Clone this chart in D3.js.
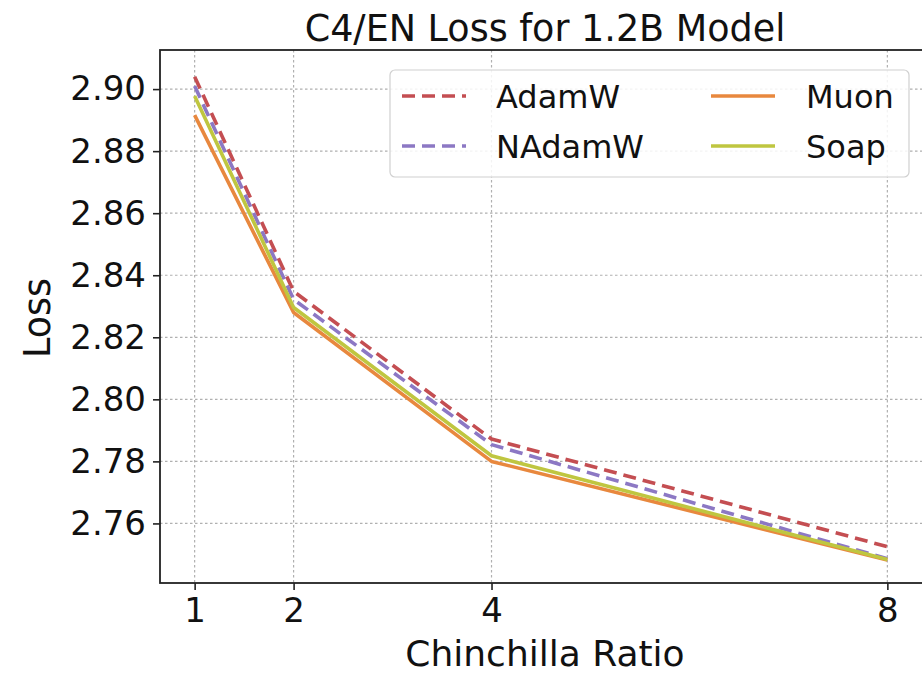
<!DOCTYPE html>
<html>
<head>
<meta charset="utf-8">
<script src="https://cdn.jsdelivr.net/npm/d3@7"></script>
<style>
  html, body { margin: 0; padding: 0; background: #fff; }
  svg { display: block; font-family: "DejaVu Sans", sans-serif; }
</style>
</head>
<body>
<svg id="chart" width="922" height="674"></svg>
<script>
const chinchilla = [1, 2, 4, 8];
const adamw  = [2.9040, 2.8348, 2.7872, 2.7525];
const nadamw = [2.9010, 2.8322, 2.7854, 2.7486];
const muon   = [2.8916, 2.8280, 2.7800, 2.7482];
const soap   = [2.8978, 2.8296, 2.7818, 2.7484];
const seriesNames = ["AdamW", "NAdamW", "Muon", "Soap"];
const xTicks = [1, 2, 4, 8];
const yTicks = [2.76, 2.78, 2.80, 2.82, 2.84, 2.86, 2.88, 2.90];

const series = [
  { name: seriesNames[0], values: adamw,  color: "#c44e52", dash: "13,7" },
  { name: seriesNames[1], values: nadamw, color: "#8c78c4", dash: "13,7" },
  { name: seriesNames[2], values: muon,   color: "#e8883e", dash: null },
  { name: seriesNames[3], values: soap,   color: "#bfc640", dash: null }
];

const svg = d3.select("#chart");
const L = 160, R = 922, T = 50, B = 583;

const x = d3.scaleLinear().domain([0.65, 8.35]).range([L, R]);
const y = d3.scaleLinear().domain([2.7408, 2.9126]).range([B, T]);

// grid
const grid = svg.append("g");
grid.selectAll(".gx").data(xTicks).enter().append("line")
  .attr("x1", d => x(d)).attr("x2", d => x(d)).attr("y1", T).attr("y2", B)
  .attr("stroke", "#b0b0b0").attr("stroke-width", 1.2).attr("stroke-dasharray", "2.5,2.5");
grid.selectAll(".gy").data(yTicks).enter().append("line")
  .attr("x1", L).attr("x2", R).attr("y1", d => y(d)).attr("y2", d => y(d))
  .attr("stroke", "#b0b0b0").attr("stroke-width", 1.2).attr("stroke-dasharray", "2.5,2.5");

// lines
const line = d3.line().x((d, i) => x(chinchilla[i])).y(d => y(d));
svg.append("g").selectAll("path").data(series).enter().append("path")
  .attr("d", d => line(d.values))
  .attr("fill", "none")
  .attr("stroke", d => d.color)
  .attr("stroke-width", 3.6)
  .attr("stroke-dasharray", d => d.dash)
  .attr("stroke-linejoin", "round");

// axes
const xAxis = d3.axisBottom(x).tickValues(xTicks).tickFormat(d3.format("d")).tickSizeOuter(0).tickSize(7).tickPadding(8);
const yAxis = d3.axisLeft(y).tickValues(yTicks).tickFormat(d3.format(".2f")).tickSizeOuter(0).tickSize(7).tickPadding(7);
const gx = svg.append("g").attr("transform", `translate(0,${B})`).call(xAxis);
const gy = svg.append("g").attr("transform", `translate(${L},0)`).call(yAxis);
[gx, gy].forEach(g => {
  g.select(".domain").remove();
  g.selectAll(".tick line").attr("stroke", "#222").attr("stroke-width", 1.6);
  g.selectAll(".tick text").attr("fill", "#111").style("font-size", "34px").style("font-family", "DejaVu Sans");
});

// spines
svg.append("rect").attr("x", L).attr("y", T).attr("width", R - L + 2).attr("height", B - T)
  .attr("fill", "none").attr("stroke", "#222").attr("stroke-width", 1.8);

// title and labels
svg.append("text").attr("x", 545).attr("y", 41).attr("text-anchor", "middle")
  .style("font-size", "36.5px").attr("fill", "#111").text("C4/EN Loss for 1.2B Model");
svg.append("text").attr("x", 545).attr("y", 666).attr("text-anchor", "middle")
  .style("font-size", "36px").attr("fill", "#111").text("Chinchilla Ratio");
svg.append("text").attr("transform", "translate(50,318) rotate(-90)").attr("text-anchor", "middle")
  .style("font-size", "36.5px").attr("fill", "#111").text("Loss");

// legend
const lg = svg.append("g");
lg.append("rect").attr("x", 390).attr("y", 70).attr("width", 519).attr("height", 107)
  .attr("rx", 5).attr("fill", "rgba(255,255,255,0.85)").attr("stroke", "#d0d0d0").attr("stroke-width", 1.2);
const legPos = [
  { hx: 402, tx: 496, ty: 96 },
  { hx: 402, tx: 496, ty: 146 },
  { hx: 711, tx: 806, ty: 96 },
  { hx: 711, tx: 806, ty: 146 }
];
series.forEach((s, i) => {
  const p = legPos[i];
  lg.append("line").attr("x1", p.hx).attr("x2", p.hx + 64).attr("y1", p.ty).attr("y2", p.ty)
    .attr("stroke", s.color).attr("stroke-width", 3.6).attr("stroke-dasharray", s.dash);
  lg.append("text").attr("x", p.tx).attr("y", p.ty + 12).style("font-size", "32px").attr("fill", "#111").text(s.name);
});
</script>
</body>
</html>
